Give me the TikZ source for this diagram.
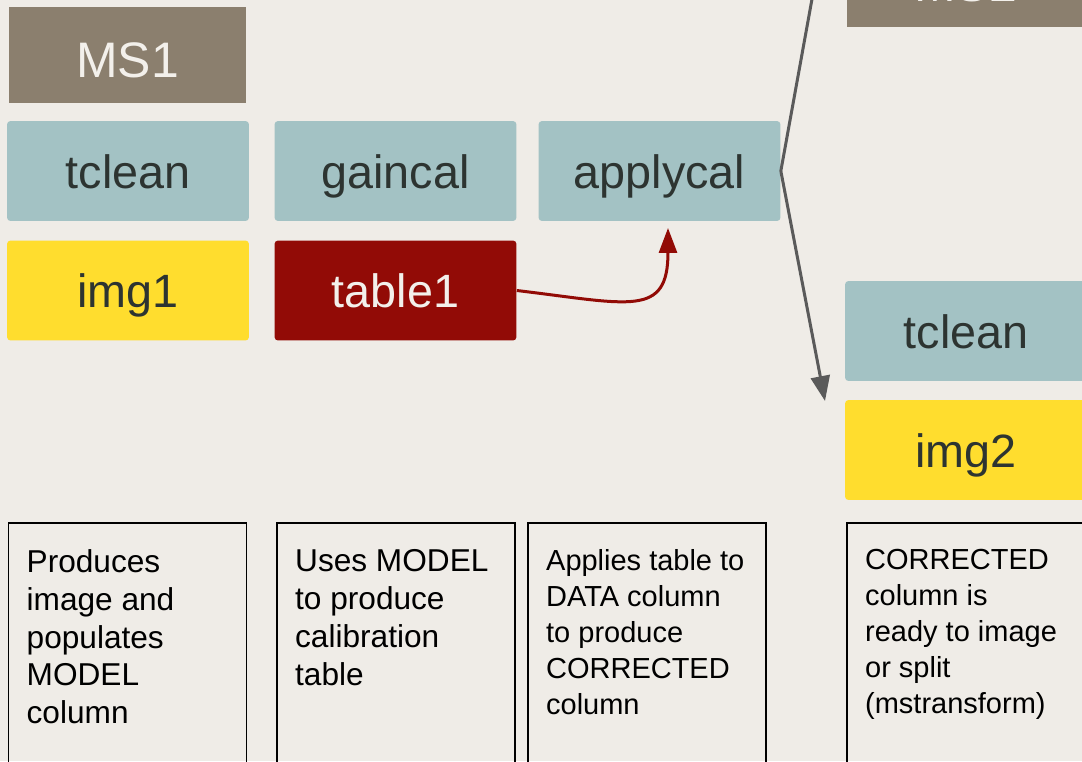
\documentclass[tikz,border=0pt]{standalone}
\usepackage{fontspec}
\setmainfont{Liberation Sans}
\usepackage{xcolor}
\usetikzlibrary{arrows.meta, positioning}

\definecolor{paper}{HTML}{EFECE7}
\definecolor{msbrown}{HTML}{8B7F6E}
\definecolor{taskteal}{HTML}{A3C2C4}
\definecolor{imgyellow}{HTML}{FFDD2E}
\definecolor{tabred}{HTML}{920B06}
\definecolor{ink}{HTML}{2D3431}
\definecolor{flowgrey}{HTML}{5A5A5A}
\definecolor{lighttext}{HTML}{F3F0EB}

\begin{document}
\begin{tikzpicture}[x=0.02cm, y=-0.02cm,
  msbox/.style={fill=msbrown, text=lighttext, minimum width=4.74cm, minimum height=1.92cm,
    inner sep=0pt, text height=26pt, text depth=0pt, font=\fontsize{28.4}{34}\selectfont},
  taskbox/.style={fill=taskteal, text=ink, rounded corners=2pt, minimum width=4.84cm,
    minimum height=2cm, inner sep=0pt, text height=19.4pt, text depth=0pt,
    font=\fontsize{26.6}{32}\selectfont},
  imgbox/.style={taskbox, fill=imgyellow},
  tabbox/.style={taskbox, fill=tabred, text=lighttext},
  notebox/.style={draw=black, line width=0.8pt, minimum width=4.76cm, minimum height=5.6cm, inner sep=0pt},
  notetext/.style={align=left, inner sep=0pt, text=black},
  flow/.style={draw=flowgrey, line width=0.06cm, -{Triangle[length=0.5cm,width=0.38cm]}},
  calflow/.style={draw=tabred, line width=0.06cm, -{Triangle[length=0.5cm,width=0.36cm]}}]

\useasboundingbox (0,0) rectangle (1082,761);
\clip (0,0) rectangle (1082,761);
\fill[paper] (0,0) rectangle (1082,761);

% measurement sets
\node[msbox] (ms1) at (127.5,55) {MS1};
\node[msbox] (ms2) at (965.5,-21) {MS2};

% tasks
\node[taskbox] (tclean1) at (128,171) {tclean};
\node[taskbox] (gaincal) at (395.5,171) {gaincal};
\node[taskbox] (applycal) at (659.5,171) {applycal};
\node[taskbox] (tclean2) at (966,331) {tclean};

% products
\node[imgbox] (img1) at (128,290.5) {img1};
\node[tabbox] (table1) at (395.5,290.5) {table1};
\node[imgbox] (img2) at (966,450) {img2};

% notes
\node[notebox] (note1) at (127.5,663) {};
\node[notebox] (note2) at (396,663) {};
\node[notebox] (note3) at (647,663) {};
\node[notebox] (note4) at (966,663) {};

\node[notetext, font=\fontsize{18}{21.5}\selectfont, below right=0.54cm and 0.37cm of note1.north west] (text1)
  {Produces\\image and\\populates\\MODEL\\column};
\node[notetext, font=\fontsize{18}{21.5}\selectfont, below right=0.54cm and 0.37cm of note2.north west] (text2)
  {Uses MODEL\\to produce\\calibration\\table};
\node[notetext, font=\fontsize{16.5}{20.4}\selectfont, below right=0.54cm and 0.37cm of note3.north west] (text3)
  {Applies table to\\DATA column\\to produce\\CORRECTED\\column};
\node[notetext, font=\fontsize{16.5}{20.4}\selectfont, below right=0.54cm and 0.37cm of note4.north west] (text4)
  {CORRECTED\\column is\\ready to image\\or split\\(mstransform)};

% connectors
\coordinate (uplink) at (814,-12);
\coordinate (downtip) at (825,401);
\coordinate (caltip) at (668,228);

\draw[draw=flowgrey, line width=0.06cm] (applycal.east) -- (uplink);
\draw[flow] (applycal.east) -- (downtip);
\draw[calflow] (table1.east) .. controls (630,304) and (668,318) .. (caltip);
\end{tikzpicture}
\end{document}
